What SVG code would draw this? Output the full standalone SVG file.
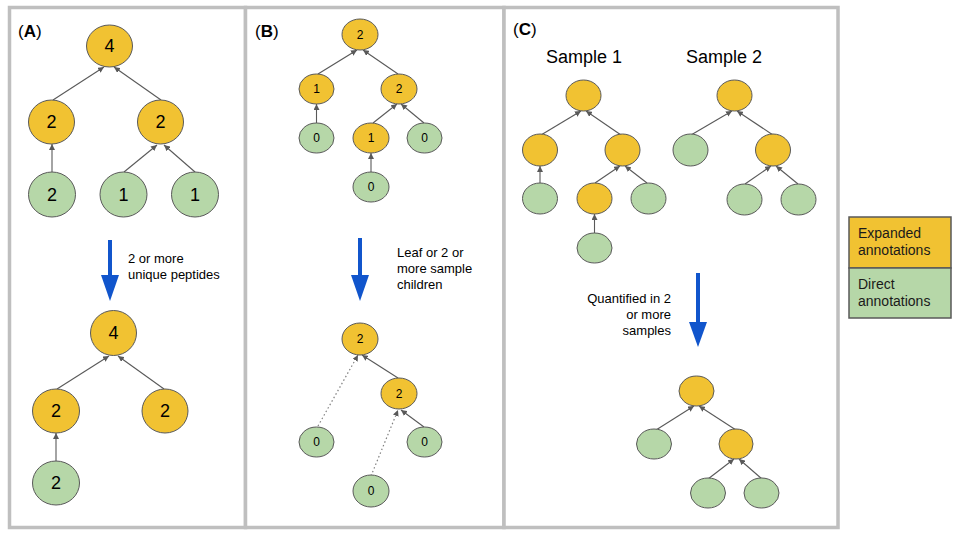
<svg xmlns="http://www.w3.org/2000/svg" width="960" height="540" viewBox="0 0 960 540">
<defs>
<marker id="ah" viewBox="0 0 10 10" refX="10" refY="5" markerWidth="6" markerHeight="6" markerUnits="userSpaceOnUse" orient="auto"><path d="M0,0 L10,5 L0,10 z" fill="#595959"/></marker>
<marker id="big" viewBox="0 0 10 10" refX="10" refY="5" markerWidth="26" markerHeight="18" markerUnits="userSpaceOnUse" orient="auto" preserveAspectRatio="none"><path d="M0,0 L10,5 L0,10 z" fill="#1155cc"/></marker>
<style>
.panel{fill:#fff;stroke:#bfbfbf;stroke-width:3.5}
.o{fill:#f1c232;stroke:#595959;stroke-width:1}
.g{fill:#b6d7a8;stroke:#595959;stroke-width:1}
.e{stroke:#595959;stroke-width:1.1;fill:none;marker-end:url(#ah)}
.d{stroke:#7f7f7f;stroke-width:1.2;fill:none;stroke-dasharray:1.5,2.5;marker-end:url(#ah)}
.blue{stroke:#1155cc;stroke-width:4;fill:none}
.bh{fill:#1155cc}
text{font-family:"Liberation Sans",Arial,sans-serif;fill:#000}
.nl{font-size:18px;text-anchor:middle;dominant-baseline:central}
.ns{font-size:12px;text-anchor:middle;dominant-baseline:central}
.lab{font-size:17px}
.cap{font-size:13px}
.samp{font-size:18px}
.leg{font-size:14px;fill:#1a1a1a}
</style>
</defs>
<rect x="0" y="0" width="960" height="540" fill="#fff"/>
<g id="panels">
<rect class="panel" x="9.5" y="7.5" width="236" height="520"/>
<rect class="panel" x="245.5" y="7.5" width="258.5" height="520"/>
<rect class="panel" x="504" y="7.5" width="334" height="520"/>
</g>
<g id="labels">
<text class="lab" x="18" y="37">(<tspan font-weight="bold">A</tspan>)</text>
<text class="lab" x="255" y="37">(<tspan font-weight="bold">B</tspan>)</text>
<text class="lab" x="513" y="35">(<tspan font-weight="bold">C</tspan>)</text>
<text class="samp" x="546" y="63">Sample 1</text>
<text class="samp" x="686" y="63">Sample 2</text>
<text class="cap" x="128" y="263">2 or more</text>
<text class="cap" x="128" y="279">unique peptides</text>
<text class="cap" x="397" y="257">Leaf or 2 or</text>
<text class="cap" x="397" y="273">more sample</text>
<text class="cap" x="397" y="289">children</text>
<text class="cap" x="671" y="303" text-anchor="end">Quantified in 2</text>
<text class="cap" x="671" y="319" text-anchor="end">or more</text>
<text class="cap" x="671" y="335" text-anchor="end">samples</text>
</g>
<g id="connectors">
<!-- A top -->
<line class="e" x1="53" y1="100" x2="104" y2="67"/>
<line class="e" x1="161" y1="100" x2="114" y2="67"/>
<line class="e" x1="52" y1="172" x2="52" y2="144"/>
<line class="e" x1="124" y1="172" x2="157" y2="145"/>
<line class="e" x1="195" y1="172" x2="164" y2="145"/>
<!-- A bottom -->
<line class="e" x1="57" y1="389" x2="109" y2="356"/>
<line class="e" x1="164" y1="389" x2="118" y2="356"/>
<line class="e" x1="56" y1="461" x2="56" y2="433"/>
<!-- B top -->
<line class="e" x1="318" y1="74" x2="357" y2="50"/>
<line class="e" x1="398" y1="74" x2="363" y2="50"/>
<line class="e" x1="316.5" y1="123" x2="316.5" y2="104"/>
<line class="e" x1="373" y1="123" x2="397" y2="104"/>
<line class="e" x1="424" y1="123" x2="401" y2="104"/>
<line class="e" x1="371" y1="172" x2="371" y2="153"/>
<!-- B bottom -->
<line class="d" x1="318" y1="426" x2="358" y2="355"/>
<line class="e" x1="398" y1="378" x2="362" y2="355"/>
<line class="d" x1="371" y1="476" x2="398" y2="410"/>
<line class="e" x1="424" y1="427" x2="401" y2="410"/>
<!-- C sample 1 -->
<line class="e" x1="541" y1="135" x2="581" y2="111"/>
<line class="e" x1="621" y1="135" x2="586" y2="111"/>
<line class="e" x1="540" y1="183" x2="540" y2="166"/>
<line class="e" x1="595" y1="183" x2="620" y2="166"/>
<line class="e" x1="647" y1="183" x2="625" y2="166"/>
<line class="e" x1="594.5" y1="233" x2="594.5" y2="214"/>
<!-- C sample 2 -->
<line class="e" x1="691" y1="135" x2="732" y2="111"/>
<line class="e" x1="773" y1="135" x2="737" y2="111"/>
<line class="e" x1="745" y1="184" x2="771" y2="166"/>
<line class="e" x1="798" y1="184" x2="776" y2="166"/>
<!-- C result -->
<line class="e" x1="656" y1="430" x2="694" y2="406"/>
<line class="e" x1="736" y1="430" x2="699" y2="406"/>
<line class="e" x1="708" y1="479" x2="734" y2="459"/>
<line class="e" x1="762" y1="479" x2="739" y2="459"/>
<!-- blue arrows -->
<line class="blue" x1="110" y1="240" x2="110" y2="277"/>
<path class="bh" d="M101,275 L119,275 L110,301 z"/>
<line class="blue" x1="360" y1="238" x2="360" y2="277"/>
<path class="bh" d="M351,275 L369,275 L360,301 z"/>
<line class="blue" x1="698" y1="273" x2="698" y2="324"/>
<path class="bh" d="M689,322 L707,322 L698,347 z"/>
</g>
<!-- Panel A top -->
<g id="a1"><ellipse class="o" cx="109.5" cy="46" rx="23" ry="21"/><text class="nl" x="109.5" y="46">4</text></g>
<g id="a2"><ellipse class="o" cx="51.5" cy="122" rx="23" ry="22"/><text class="nl" x="51.5" y="122">2</text></g>
<g id="a3"><ellipse class="o" cx="160.5" cy="122" rx="23" ry="22"/><text class="nl" x="160.5" y="122">2</text></g>
<g id="a4"><ellipse class="g" cx="52" cy="194.5" rx="23.5" ry="22.5"/><text class="nl" x="52" y="194.5">2</text></g>
<g id="a5"><ellipse class="g" cx="123.5" cy="194.5" rx="23.5" ry="22.5"/><text class="nl" x="123.5" y="194.5">1</text></g>
<g id="a6"><ellipse class="g" cx="195" cy="194.5" rx="23.5" ry="22.5"/><text class="nl" x="195" y="194.5">1</text></g>
<!-- Panel A bottom -->
<g id="a7"><ellipse class="o" cx="113.5" cy="333" rx="23" ry="22.5"/><text class="nl" x="113.5" y="333">4</text></g>
<g id="a8"><ellipse class="o" cx="56" cy="411" rx="23.5" ry="22"/><text class="nl" x="56" y="411">2</text></g>
<g id="a9"><ellipse class="o" cx="165" cy="411" rx="23" ry="22"/><text class="nl" x="165" y="411">2</text></g>
<g id="a10"><ellipse class="g" cx="56" cy="483" rx="23.5" ry="22"/><text class="nl" x="56" y="483">2</text></g>
<!-- Panel B top -->
<g id="b1"><ellipse class="o" cx="360" cy="34.5" rx="18" ry="15.5"/><text class="ns" x="360" y="34.5">2</text></g>
<g id="b2"><ellipse class="o" cx="316.5" cy="89" rx="17.5" ry="15"/><text class="ns" x="316.5" y="89">1</text></g>
<g id="b3"><ellipse class="o" cx="399" cy="89" rx="18" ry="15"/><text class="ns" x="399" y="89">2</text></g>
<g id="b4"><ellipse class="g" cx="316.5" cy="138" rx="17.5" ry="15"/><text class="ns" x="316.5" y="138">0</text></g>
<g id="b5"><ellipse class="o" cx="371" cy="138" rx="18" ry="15"/><text class="ns" x="371" y="138">1</text></g>
<g id="b6"><ellipse class="g" cx="424.5" cy="138" rx="17.5" ry="15"/><text class="ns" x="424.5" y="138">0</text></g>
<g id="b7"><ellipse class="g" cx="371" cy="187" rx="18" ry="15"/><text class="ns" x="371" y="187">0</text></g>
<!-- Panel B bottom -->
<g id="b8"><ellipse class="o" cx="360" cy="339" rx="18" ry="16"/><text class="ns" x="360" y="339">2</text></g>
<g id="b9"><ellipse class="o" cx="399" cy="393.5" rx="18" ry="15.5"/><text class="ns" x="399" y="393.5">2</text></g>
<g id="b10"><ellipse class="g" cx="316.5" cy="442" rx="17.5" ry="15"/><text class="ns" x="316.5" y="442">0</text></g>
<g id="b11"><ellipse class="g" cx="424.5" cy="442" rx="17.5" ry="15"/><text class="ns" x="424.5" y="442">0</text></g>
<g id="b12"><ellipse class="g" cx="371" cy="491" rx="18" ry="16"/><text class="ns" x="371" y="491">0</text></g>
<!-- Panel C sample 1 -->
<g id="c1"><ellipse class="o" cx="583.5" cy="95.5" rx="17.5" ry="15.5"/></g>
<g id="c2"><ellipse class="o" cx="540" cy="150" rx="17.5" ry="16"/></g>
<g id="c3"><ellipse class="o" cx="622.5" cy="150" rx="17.5" ry="16"/></g>
<g id="c4"><ellipse class="g" cx="540" cy="198.5" rx="17.5" ry="15.5"/></g>
<g id="c5"><ellipse class="o" cx="594.5" cy="198.5" rx="17.5" ry="15.5"/></g>
<g id="c6"><ellipse class="g" cx="648.5" cy="198.5" rx="17.5" ry="15.5"/></g>
<g id="c7"><ellipse class="g" cx="594.5" cy="248" rx="17.5" ry="15"/></g>
<!-- Panel C sample 2 -->
<g id="c8"><ellipse class="o" cx="734.5" cy="95.5" rx="17.5" ry="15.5"/></g>
<g id="c9"><ellipse class="g" cx="690.5" cy="150" rx="17.5" ry="16"/></g>
<g id="c10"><ellipse class="o" cx="773" cy="150" rx="17.5" ry="16"/></g>
<g id="c11"><ellipse class="g" cx="744.5" cy="199.5" rx="17.5" ry="15.5"/></g>
<g id="c12"><ellipse class="g" cx="798.5" cy="199.5" rx="17.5" ry="15.5"/></g>
<!-- Panel C result -->
<g id="c13"><ellipse class="o" cx="696.5" cy="391" rx="17.5" ry="15"/></g>
<g id="c14"><ellipse class="g" cx="654" cy="444" rx="17.5" ry="15"/></g>
<g id="c15"><ellipse class="o" cx="736" cy="444" rx="17" ry="15"/></g>
<g id="c16"><ellipse class="g" cx="708" cy="493" rx="17.5" ry="15"/></g>
<g id="c17"><ellipse class="g" cx="761.5" cy="493" rx="17.5" ry="15"/></g>
<!-- Legend -->
<g id="legend-expanded"><rect x="849" y="217" width="102" height="51" fill="#f1c232" stroke="#595959" stroke-width="1.5"/><text class="leg" x="858" y="238">Expanded</text><text class="leg" x="858" y="255">annotations</text></g>
<g id="legend-direct"><rect x="849" y="268" width="102" height="50" fill="#b6d7a8" stroke="#595959" stroke-width="1.5"/><text class="leg" x="858" y="289">Direct</text><text class="leg" x="858" y="306">annotations</text></g>
</svg>
